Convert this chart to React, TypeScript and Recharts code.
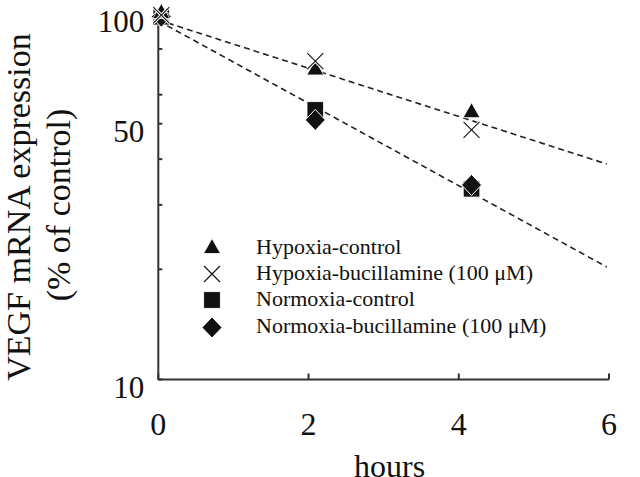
import React from 'react';
import { ScatterChart, Scatter, XAxis, YAxis, Legend } from 'recharts';

// ---- data ----
const hours = [0.04, 2.09, 4.17];
const hypoxiaControl = [100, 70.1, 53.6];
const hypoxiaBucillamine = [99, 74.1, 48.1];
const normoxiaControl = [98, 54.5, 33.2];
const normoxiaBucillamine = [98, 51.2, 34.0];

const fitHours = [0, 5.97];
const hypoxiaFit = [96, 38.8];
const normoxiaFit = [95.5, 20.3];

const xTicks = [0, 2, 4, 6];
const yTicks = [10, 20, 30, 40, 50, 60, 70, 80, 90, 100];
const yLabelled = [10, 50, 100];

const seriesNames = [
  'Hypoxia-control',
  'Hypoxia-bucillamine (100 \u03bcM)',
  'Normoxia-control',
  'Normoxia-bucillamine (100 \u03bcM)',
];

const FONT = '"Liberation Serif", "Times New Roman", serif';
const INK = '#111';
const AXIS = '#333';

const toPts = (xs: number[], ys: number[]) => xs.map((x, i) => ({ x, y: ys[i] }));

// ---- marker shapes ----
const Triangle = ({ cx, cy }: any) => (
  <polygon
    points={`${cx},${cy - 10} ${cx + 8.5},${cy + 5} ${cx - 8.5},${cy + 5}`}
    fill={INK}
    stroke="#fff"
    strokeWidth={0.8}
  />
);
const Cross = ({ cx, cy }: any) => (
  <g>
    <path d={`M${cx - 8},${cy - 8}L${cx + 8},${cy + 8}M${cx - 8},${cy + 8}L${cx + 8},${cy - 8}`} stroke="#fff" strokeWidth={3} />
    <path d={`M${cx - 8},${cy - 8}L${cx + 8},${cy + 8}M${cx - 8},${cy + 8}L${cx + 8},${cy - 8}`} stroke={INK} strokeWidth={1.1} />
  </g>
);
const Square = ({ cx, cy }: any) => (
  <rect x={cx - 8.3} y={cy - 8.3} width={16.6} height={16.6} fill={INK} stroke="#fff" strokeWidth={0.8} />
);
const Diamond = ({ cx, cy }: any) => (
  <polygon
    points={`${cx},${cy - 10.5} ${cx + 10},${cy} ${cx},${cy + 10.5} ${cx - 10},${cy}`}
    fill={INK}
    stroke="#fff"
    strokeWidth={1}
  />
);
const NoShape = () => <g />;

const shapes = [Triangle, Cross, Square, Diamond];

// ---- ticks ----
const YTick = ({ x, y, payload }: any) =>
  yLabelled.includes(payload.value) ? (
    <text x={x} y={y + 18} textAnchor="end" fontSize={31} fontFamily={FONT} fill={INK}>
      {payload.value}
    </text>
  ) : (
    <g />
  );

const XTick = ({ x, y, payload }: any) => (
  <text x={x} y={y + 55} textAnchor="middle" fontSize={32} fontFamily={FONT} fill={INK}>
    {payload.value}
  </text>
);

const YTitle = () => (
  <g>
    <text
      transform="translate(30,207) rotate(-90)"
      textAnchor="middle"
      fontSize={34}
      fontFamily={FONT}
      fill={INK}
    >
      VEGF mRNA expression
    </text>
    <text
      transform="translate(70,205) rotate(-90)"
      textAnchor="middle"
      fontSize={34}
      fontFamily={FONT}
      fill={INK}
    >
      (% of control)
    </text>
  </g>
);

const XTitle = ({ viewBox }: any) => (
  <text
    x={viewBox.x + viewBox.width / 2 + 6}
    y={477}
    textAnchor="middle"
    fontSize={32}
    fontFamily={FONT}
    fill={INK}
  >
    hours
  </text>
);

const LegendBox = () => {
  const baselines = [28.5, 55, 81, 108];
  return (
    <svg width={420} height={120} style={{ overflow: 'visible', display: 'block' }}>
      {seriesNames.map((name, i) => {
        const Shape = shapes[i];
        const cy = baselines[i] - (i === 3 ? 5.5 : 6);
        return (
          <g key={name}>
            <Shape cx={22} cy={i === 0 ? cy + 1 : cy} />
            <text x={66} y={baselines[i]} fontSize={22} fontFamily={FONT} fill={INK}>
              {name}
            </text>
          </g>
        );
      })}
    </svg>
  );
};

export default function App() {
  const fitStyle = { stroke: '#222', strokeWidth: 1.6, strokeDasharray: '6 4' };
  return (
    <div style={{ position: 'absolute', left: 0, top: 0, background: '#fff' }}>
      <ScatterChart width={640} height={477} margin={{ top: 13.5, right: 31, bottom: 0, left: 0 }}>
        <XAxis
          type="number"
          dataKey="x"
          domain={[0, 6]}
          ticks={xTicks}
          height={97.5}
          stroke={AXIS}
          strokeWidth={2}
          tickSize={-6}
          tickMargin={6}
          tick={<XTick />}
          label={<XTitle />}
        />
        <YAxis
          type="number"
          dataKey="y"
          scale="log"
          domain={[10, 100]}
          ticks={yTicks}
          width={158.3}
          stroke={AXIS}
          strokeWidth={2}
          tickSize={-4}
          tickMargin={18}
          tick={<YTick />}
          label={<YTitle />}
        />
        <Scatter data={toPts(fitHours, hypoxiaFit)} line={fitStyle} shape={NoShape} isAnimationActive={false} legendType="none" />
        <Scatter data={toPts(fitHours, normoxiaFit)} line={fitStyle} shape={NoShape} isAnimationActive={false} legendType="none" />
        <Scatter name={seriesNames[2]} data={toPts(hours, normoxiaControl)} shape={Square} isAnimationActive={false} />
        <Scatter name={seriesNames[3]} data={toPts(hours, normoxiaBucillamine)} shape={Diamond} isAnimationActive={false} />
        <Scatter name={seriesNames[0]} data={toPts(hours, hypoxiaControl)} shape={Triangle} isAnimationActive={false} />
        <Scatter name={seriesNames[1]} data={toPts(hours, hypoxiaBucillamine)} shape={Cross} isAnimationActive={false} />
        <Legend
          layout="vertical"
          align="center"
          verticalAlign="middle"
          content={<LegendBox />}
          wrapperStyle={{ left: 190, top: 225, width: 420 }}
        />
      </ScatterChart>
    </div>
  );
}
